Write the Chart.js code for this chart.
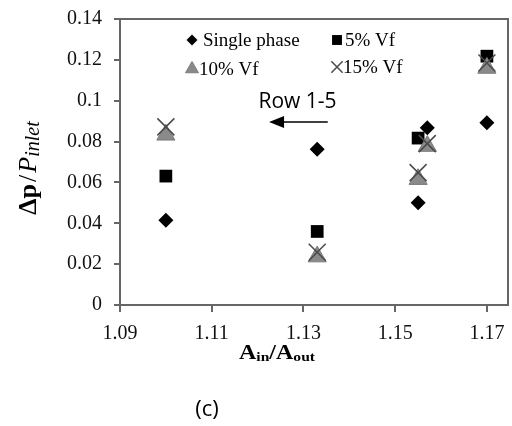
<!DOCTYPE html>
<html>
<head>
<meta charset="utf-8">
<script src="https://cdn.jsdelivr.net/npm/chart.js@4.4.1/dist/chart.umd.min.js"></script>
<style>
  body { margin: 0; background: #fff; }
  #wrap { width: 512px; height: 426px; position: relative; }
</style>
</head>
<body>
<div id="wrap"><canvas id="chart"></canvas></div>
<script>
// area ratio of each row group (x) and pressure drop ratio per series (y)
const areaRatio = [1.100, 1.133, 1.155, 1.157, 1.170];
const singlePhase = [0.0415, 0.0762, 0.0500, 0.0868, 0.0892];
const vf5 = [0.0631, 0.0360, 0.0817, null, 0.1218];
const vf10 = [0.0833, 0.0237, 0.0616, 0.0778, 0.1160];
const vf15 = [0.0872, 0.0258, 0.0648, 0.0790, 0.1185];

const seriesNames = ['Single phase', '5% Vf', '10% Vf', '15% Vf'];
const xTicks = [1.09, 1.11, 1.13, 1.15, 1.17];
const yTicks = [0, 0.02, 0.04, 0.06, 0.08, 0.1, 0.12, 0.14];
const yTickLabels = ['0', '0.02', '0.04', '0.06', '0.08', '0.1', '0.12', '0.14'];

const serif = '"Liberation Serif", "DejaVu Serif", serif';

function toPoints(ys) {
  return ys.map((v, i) => ({ x: areaRatio[i], y: v })).filter(p => p.y !== null);
}

const styles = [
  { pointStyle: 'rectRot', radius: 7.5, bg: '#000', border: '#000', bw: 0 },
  { pointStyle: 'rect', radius: 9, bg: '#000', border: '#000', bw: 0 },
  { pointStyle: 'triangle', radius: 10.5, bg: '#8a8a8a', border: '#7d7d7d', bw: 1 },
  { pointStyle: 'crossRot', radius: 12, bg: 'rgba(0,0,0,0)', border: '#4a4a4a', bw: 1.5 },
];

const allSeries = [singlePhase, vf5, vf10, vf15];
const datasets = allSeries.map((ys, i) => ({
  label: seriesNames[i],
  data: toPoints(ys),
  showLine: false,
  pointStyle: styles[i].pointStyle,
  pointRadius: styles[i].radius,
  pointBackgroundColor: styles[i].bg,
  pointBorderColor: styles[i].border,
  pointBorderWidth: styles[i].bw,
  order: 4 - i,
}));

function drawParts(ctx, parts, sx) {
  let total = 0;
  parts.forEach(p => { ctx.font = p.f; p.w = ctx.measureText(p.t).width + (p.gap || 0) * 2; total += p.w; });
  let cx = -total / 2;
  ctx.save();
  ctx.scale(sx || 1, 1);
  parts.forEach(p => {
    ctx.font = p.f;
    ctx.fillText(p.t, cx + (p.gap || 0), p.dy || 0);
    cx += p.w;
  });
  ctx.restore();
}

const extras = {
  id: 'extras',
  beforeDatasetsDraw(chart) {
    const { ctx, chartArea: a } = chart;
    ctx.save();
    ctx.strokeStyle = '#666';
    ctx.lineWidth = 2;
    ctx.strokeRect(a.left, a.top, a.right - a.left, a.bottom - a.top);
    ctx.restore();
  },
  afterDraw(chart) {
    const { ctx, chartArea: a, scales: { x, y } } = chart;
    ctx.save();
    ctx.fillStyle = '#000';
    ctx.textBaseline = 'middle';

    // legend inside plot
    const leg = [
      { i: 0, mx: a.left + 72, my: a.top + 21, r: 5.5, tx: a.left + 83 },
      { i: 1, mx: a.left + 217, my: a.top + 21, r: 7, tx: a.left + 225 },
      { i: 2, mx: a.left + 72, my: a.top + 50, r: 7.5, tx: a.left + 79 },
      { i: 3, mx: a.left + 217, my: a.top + 48, r: 8, tx: a.left + 223 },
    ];
    leg.forEach(l => {
      const s = styles[l.i];
      ctx.save();
      ctx.fillStyle = s.bg;
      ctx.strokeStyle = s.border;
      ctx.lineWidth = s.bw || 0;
      Chart.helpers.drawPoint(ctx, { pointStyle: s.pointStyle, radius: l.r, rotation: 0, borderWidth: s.bw }, l.mx, l.my);
      ctx.restore();
      ctx.font = '19px ' + serif;
      ctx.textAlign = 'left';
      ctx.fillText(seriesNames[l.i], l.tx, l.my + 1);
    });

    // "Row 1-5" annotation with arrow pointing left
    const ax0 = x.getPixelForValue(1.1353), ax1 = x.getPixelForValue(1.1225);
    const ay = y.getPixelForValue(0.0896);
    ctx.font = '21px "Open Sans", sans-serif';
    ctx.textAlign = 'center';
    ctx.fillText('Row 1-5', x.getPixelForValue(1.1287), y.getPixelForValue(0.0993));
    ctx.strokeStyle = '#000';
    ctx.lineWidth = 1.5;
    ctx.beginPath();
    ctx.moveTo(ax0, ay);
    ctx.lineTo(ax1 + 10, ay);
    ctx.stroke();
    ctx.beginPath();
    ctx.moveTo(ax1, ay);
    ctx.lineTo(ax1 + 15, ay - 6);
    ctx.lineTo(ax1 + 15, ay + 6);
    ctx.closePath();
    ctx.fill();

    // y axis title
    ctx.save();
    ctx.translate(29, 168);
    ctx.rotate(-Math.PI / 2);
    ctx.textAlign = 'left';
    drawParts(ctx, [
      { t: 'Δp', f: 'bold 26px ' + serif },
      { t: '/', f: '26px ' + serif, gap: 2 },
      { t: 'P', f: 'italic 26px ' + serif },
      { t: 'inlet', f: 'italic 20px ' + serif, dy: 5 },
    ], 1);
    ctx.restore();

    // x axis title
    ctx.save();
    ctx.translate(277, 354);
    ctx.textAlign = 'left';
    drawParts(ctx, [
      { t: 'A', f: 'bold 20px ' + serif },
      { t: 'in', f: 'bold 13px ' + serif, dy: 4 },
      { t: '/', f: 'bold 20px ' + serif },
      { t: 'A', f: 'bold 20px ' + serif },
      { t: 'out', f: 'bold 13px ' + serif, dy: 4 },
    ], 1.2);
    ctx.restore();

    // panel label
    ctx.font = '22px "Open Sans", sans-serif';
    ctx.textAlign = 'center';
    ctx.fillText('(c)', 207, 410);
    ctx.restore();
  }
};

function noPad(scale) {
  scale.paddingLeft = 0;
  scale.paddingRight = 0;
  scale.paddingTop = 0;
  scale.paddingBottom = 0;
}

new Chart(document.getElementById('chart').getContext('2d'), {
  type: 'scatter',
  data: { datasets: datasets },
  plugins: [extras],
  options: {
    responsive: true,
    maintainAspectRatio: false,
    animation: false,
    events: [],
    layout: { autoPadding: false, padding: { top: 19, right: 4, left: 0, bottom: 0 } },
    plugins: { legend: { display: false }, tooltip: { enabled: false } },
    scales: {
      x: {
        type: 'linear',
        min: 1.09,
        max: 1.1746,
        afterBuildTicks: (scale) => { scale.ticks = xTicks.map(v => ({ value: v })); },
        afterFit: (scale) => { scale.height = 121; noPad(scale); },
        border: { display: false },
        grid: { drawOnChartArea: false, drawTicks: true, tickLength: 7, color: '#666', lineWidth: 2 },
        ticks: {
          padding: 10,
          color: '#111',
          font: { family: serif, size: 20 },
          maxRotation: 0,
          callback: (v) => Number(v).toFixed(2),
        },
      },
      y: {
        type: 'linear',
        min: 0,
        max: 0.14,
        afterBuildTicks: (scale) => { scale.ticks = yTicks.map(v => ({ value: v })); },
        afterFit: (scale) => { scale.width = 120; noPad(scale); },
        border: { display: false },
        grid: { drawOnChartArea: false, drawTicks: true, tickLength: 6, color: '#666', lineWidth: 2 },
        ticks: {
          padding: 12,
          color: '#111',
          font: { family: serif, size: 20 },
          callback: (v) => yTickLabels[yTicks.findIndex(t => Math.abs(t - v) < 1e-9)],
        },
      },
    },
  },
});
</script>
</body>
</html>
